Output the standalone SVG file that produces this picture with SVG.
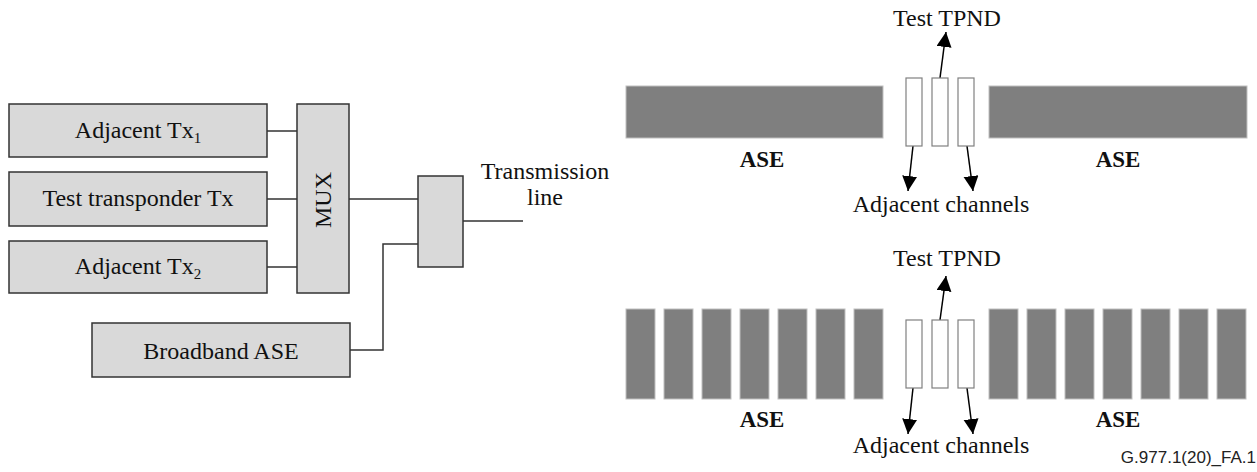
<svg xmlns="http://www.w3.org/2000/svg" width="1257" height="472" viewBox="0 0 1257 472">
<defs>
<style>
.box{fill:#d9d9d9;stroke:#333;stroke-width:1.5}
.t{font-family:"Liberation Serif","Times New Roman",serif;font-size:24px;fill:#111;text-anchor:middle}
.b{font-weight:bold;font-size:23px}
.sub{font-size:15px}
.wire{fill:none;stroke:#333;stroke-width:1.5}
.bar{fill:#7f7f7f;stroke:#c0c0c0;stroke-width:1}
.ch{fill:#fff;stroke:#808080;stroke-width:1.2}
.arr{fill:none;stroke:#000;stroke-width:1.5;marker-end:url(#ah)}
</style>
<marker id="ah" markerUnits="userSpaceOnUse" markerWidth="18" markerHeight="16" refX="15" refY="7.5" orient="auto">
<path d="M0,0 L15,7.5 L0,15 Z" fill="#000"/>
</marker>
</defs>
<rect width="1257" height="472" fill="#fff"/>

<g id="adjTx1"><rect class="box" x="9" y="104" width="258" height="53"/><text class="t" x="138" y="138">Adjacent Tx<tspan class="sub" dy="5">1</tspan></text></g>
<g id="testTx"><rect class="box" x="9" y="172" width="258" height="54"/><text class="t" x="138" y="206">Test transponder Tx</text></g>
<g id="adjTx2"><rect class="box" x="9" y="241" width="258" height="52"/><text class="t" x="138" y="274">Adjacent Tx<tspan class="sub" dy="5">2</tspan></text></g>
<g id="mux"><rect class="box" x="297" y="104" width="52" height="189"/><text class="t" transform="translate(331,200) rotate(-90)">MUX</text></g>
<g id="broadband"><rect class="box" x="92" y="323" width="258" height="54"/><text class="t" x="221" y="359">Broadband ASE</text></g>
<g id="coupler"><rect class="box" x="418" y="176" width="45" height="91"/></g>
<g id="txline"><text class="t" x="545" y="179">Transmission</text><text class="t" x="545" y="205">line</text></g>

<g id="connectors">
<path class="wire" d="M267,131 H297 M267,199 H297 M267,267 H297 M349,199 H418 M350,350 H383 V244 H418 M463,221 H523"/>
<path class="arr" d="M940,78 L946,32"/>
<path class="arr" d="M913,146 L908,191"/>
<path class="arr" d="M967,146 L973,191"/>
<path class="arr" d="M940,320 L946,276"/>
<path class="arr" d="M913,388 L908,434"/>
<path class="arr" d="M967,388 L973,434"/>
</g>

<g id="spectrum1">
<rect class="bar" x="626" y="86" width="257" height="52"/>
<rect class="bar" x="989" y="86" width="258" height="52"/>
<rect class="ch" x="906" y="78" width="16" height="68"/>
<rect class="ch" x="932" y="78" width="16" height="68"/>
<rect class="ch" x="958" y="78" width="16" height="68"/>
<text class="t" x="947" y="26">Test TPND</text>
<text class="t" x="941" y="212">Adjacent channels</text>
<text class="t b" x="762" y="167">ASE</text>
<text class="t b" x="1118" y="167">ASE</text>
</g>

<g id="spectrum2">
<rect class="bar" x="626" y="309" width="29" height="90"/>
<rect class="bar" x="664" y="309" width="29" height="90"/>
<rect class="bar" x="702" y="309" width="29" height="90"/>
<rect class="bar" x="740" y="309" width="29" height="90"/>
<rect class="bar" x="778" y="309" width="29" height="90"/>
<rect class="bar" x="816" y="309" width="29" height="90"/>
<rect class="bar" x="854" y="309" width="29" height="90"/>
<rect class="bar" x="989" y="309" width="29" height="90"/>
<rect class="bar" x="1027" y="309" width="29" height="90"/>
<rect class="bar" x="1065" y="309" width="29" height="90"/>
<rect class="bar" x="1103" y="309" width="29" height="90"/>
<rect class="bar" x="1141" y="309" width="29" height="90"/>
<rect class="bar" x="1179" y="309" width="29" height="90"/>
<rect class="bar" x="1217" y="309" width="29" height="90"/>
<rect class="ch" x="906" y="320" width="16" height="68"/>
<rect class="ch" x="932" y="320" width="16" height="68"/>
<rect class="ch" x="958" y="320" width="16" height="68"/>
<text class="t" x="947" y="266">Test TPND</text>
<text class="t" x="941" y="453">Adjacent channels</text>
<text class="t b" x="762" y="427">ASE</text>
<text class="t b" x="1118" y="427">ASE</text>
</g>

<text x="1256" y="463" style="font-family:'Liberation Sans',Arial,sans-serif;font-size:17px;fill:#222;text-anchor:end">G.977.1(20)_FA.1</text>
</svg>
